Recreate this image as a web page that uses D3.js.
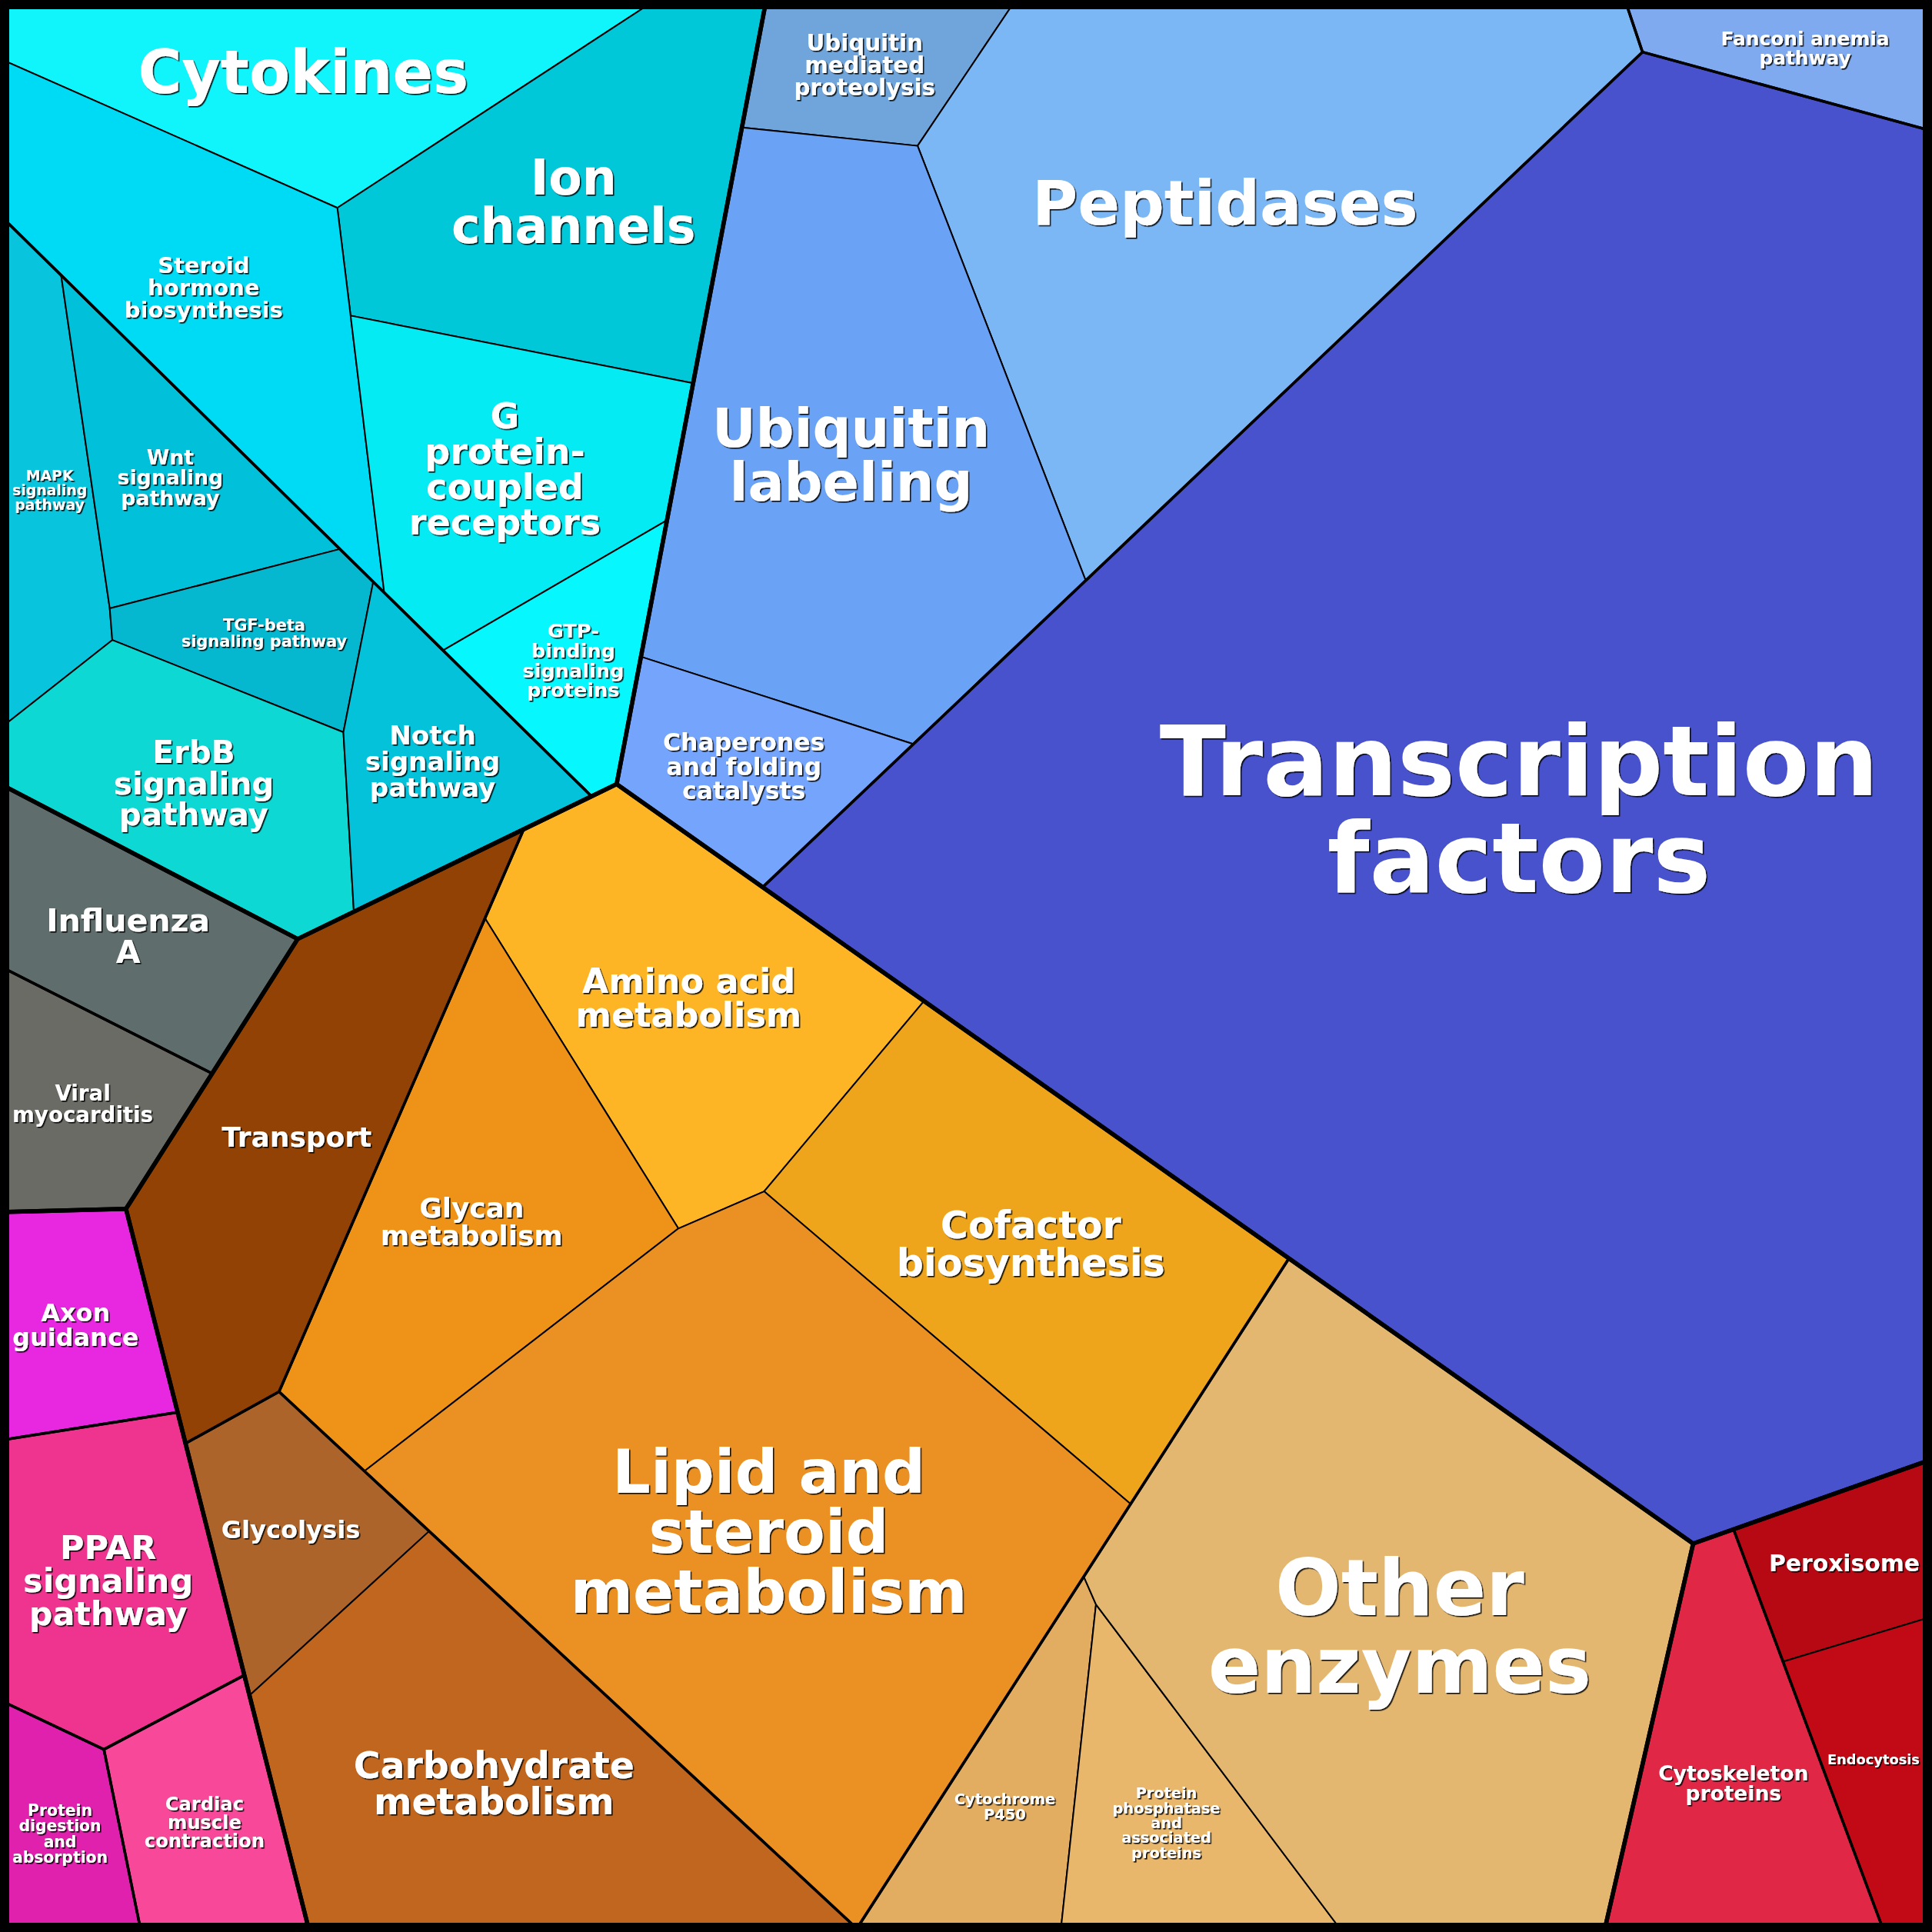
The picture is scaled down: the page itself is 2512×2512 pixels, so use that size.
<!DOCTYPE html>
<html><head><meta charset="utf-8">
<script src="https://cdn.jsdelivr.net/npm/d3@7"></script>
<style>body{margin:0;background:#fff}</style></head>
<body><svg id="chart" width="2512" height="2512"></svg>
<script>
// ---------------- data ----------------
const groups = ["Signaling and cellular processes","Genetic information processing","Metabolism","Human diseases","Organismal systems","Cellular processes"];
const subgroups = [
  "Signaling molecules and interaction","Signal transduction",
  "Folding, sorting and degradation","Transcription","Replication and repair",
  "Core metabolism","Membrane transport","Carbohydrate pathways","Enzymes",
  "Influenza A","Viral myocarditis",
  "Axon guidance","PPAR signaling pathway","Protein digestion and absorption","Cardiac muscle contraction",
  "Transport and catabolism","Cell motility"];
const subgroupGroup = [0,0, 1,1,1, 2,2,2,2, 3,3, 4,4,4,4, 5,5];
const categories = [
  "Cytokines","Ion\nchannels","Steroid\nhormone\nbiosynthesis","G\nprotein-\ncoupled\nreceptors","GTP-\nbinding\nsignaling\nproteins",
  "MAPK\nsignaling\npathway","Wnt\nsignaling\npathway","TGF-beta\nsignaling pathway","ErbB\nsignaling\npathway","Notch\nsignaling\npathway",
  "Ubiquitin\nmediated\nproteolysis","Peptidases","Ubiquitin\nlabeling","Chaperones\nand folding\ncatalysts",
  "Transcription\nfactors",
  "Fanconi anemia\npathway",
  "Amino acid\nmetabolism","Cofactor\nbiosynthesis","Glycan\nmetabolism","Lipid and\nsteroid\nmetabolism",
  "Transport",
  "Glycolysis","Carbohydrate\nmetabolism",
  "Cytochrome\nP450","Protein\nphosphatase\nand\nassociated\nproteins","Other\nenzymes",
  "Influenza\nA","Viral\nmyocarditis",
  "Axon\nguidance","PPAR\nsignaling\npathway","Protein\ndigestion\nand\nabsorption","Cardiac\nmuscle\ncontraction",
  "Peroxisome","Endocytosis","Cytoskeleton\nproteins"];
const categorySubgroup = [0,0,0,0,0, 1,1,1,1,1, 2,2,2,2, 3, 4, 5,5,5,5, 6, 7,7, 8,8,8, 9, 10, 11, 12, 13, 14, 15,15, 16];
const values = [
  131.8,175.8,154.5,126.7,49.0,
  65.5,67.2,46.8,108.8,70.2,
  50.0,387.7,304.5,61.9,
  1773.2,
  45.5,
  174.7,211.2,169.8,482.1,
  167.2,
  64.7,230.7,
  66.0,78.0,436.3,
  77.7,58.2,
  56.0,107.0,42.1,60.5,
  44.9,50.6,107.4];

// ---------------- layout seeds (unit square) ----------------
const groupSeeds = [[0.1829,0.2068],[0.7354,0.3122],[0.4384,0.7332],[0.0405,0.4801],[0.0495,0.8319],[0.9234,0.8444]];
const subgroupSeeds = [
  [0.2024,0.1676],[0.1575,0.2133],
  [0.5583,0.1385],[0.8034,0.3967],[0.9054,0.0222],
  [0.4194,0.6703],[0.0865,0.5255],[0.2608,0.8410],[0.7040,0.8538],
  [0.0985,0.4201],[0.0106,0.5940],
  [0.0326,0.6621],[0.0561,0.8104],[-0.0081,0.9459],[0.1145,0.9209],
  [0.9831,0.8356],[0.8703,0.8778]];
const categorySeeds = [
  [0.133690,-0.007413],[0.247590,0.166986],[0.045592,0.191815],[0.247527,0.167305],[0.405750,0.439321],
  [0.051693,0.250167],[0.129084,0.238866],[0.130385,0.243909],[0.102283,0.314380],[0.398707,0.297124],
  [0.5083,0.0357],[0.6200,0.1108],[0.4954,0.1590],[0.4053,0.4401],
  [0.7864,0.4185],
  [0.9345,0.0249],
  [0.3234,0.4841],[0.5537,0.6775],[0.2528,0.5281],[0.4564,0.7916],
  [0.1529,0.5879],
  [0.1633,0.7236],[0.3101,0.8841],
  [0.6226,0.8842],[0.6624,0.8885],[0.7323,0.8359],
  [0.0667,0.4837],[0.0417,0.5715],
  [0.0390,0.6856],[0.0559,0.8178],[0.0303,0.9491],[0.1058,0.9431],
  [0.9514,0.7479],[0.9957,0.8944],
  [0.8971,0.9226]];

// ---------------- styles ----------------
const categoryColors = [
  "#10f4fb","#00c8d9","#00dbf5","#05ebf3","#06f8fe",
  "#08c5dd","#00c1d9","#06b8cf","#0ed8d3","#03c2da",
  "#6fa5db","#7cb7f5","#6aa2f6","#74a4fb",
  "#4752cc",
  "#7faaf0",
  "#fdb525","#eea41b","#ee9317","#eb9022",
  "#924204",
  "#ac642a","#c1661f",
  "#e3ad61","#e8b76b","#e4b770",
  "#5f6e6c","#696b64",
  "#e828e0","#ef348f","#e021ad","#f74899",
  "#b60914","#c10a16","#e12746"];

const W = 2512;            // drawing size
const FRAME = 24;          // outer frame stroke (half of it visible)
const X = d3.scaleLinear().domain([0,1]).range([0,W]);

// build hierarchy from the arrays
const rootData = {name:"root", children: groups.map((g,gi)=>({
  name:g, seed:groupSeeds[gi],
  children: subgroups.map((s,si)=>({s,si})).filter(o=>subgroupGroup[o.si]===gi).map(o=>({
    name:o.s, seed:subgroupSeeds[o.si],
    children: categories.map((c,ci)=>({c,ci})).filter(q=>categorySubgroup[q.ci]===o.si).map(q=>({
      name:q.c, seed:categorySeeds[q.ci], value:values[q.ci], color:categoryColors[q.ci]}))
  }))
}))};
const root = d3.hierarchy(rootData).sum(d=>d.value||0);

// ---------------- power-diagram (weighted Voronoi) treemap ----------------
function clip(poly,a,b,c,lab){
  const out=[],n=poly.length;
  for(let k=0;k<n;k++){
    const P=poly[k],Q=poly[(k+1)%n];
    const vp=a*P.x+b*P.y-c, vq=a*Q.x+b*Q.y-c;
    if(vp<=0){ out.push(P); if(vq>0){const t=vp/(vp-vq); out.push({x:P.x+t*(Q.x-P.x),y:P.y+t*(Q.y-P.y),lab});} }
    else if(vq<=0){ const t=vp/(vp-vq); out.push({x:P.x+t*(Q.x-P.x),y:P.y+t*(Q.y-P.y),lab:P.lab}); }
  }
  return out;
}
function powerCell(i,s,w,parent){
  let poly=parent.map(p=>({x:p[0],y:p[1],lab:-1}));
  for(let j=0;j<s.length;j++){
    if(j===i) continue;
    const a=2*(s[j][0]-s[i][0]), b=2*(s[j][1]-s[i][1]);
    const c=s[j][0]**2+s[j][1]**2-s[i][0]**2-s[i][1]**2-w[j]+w[i];
    poly=clip(poly,a,b,c,j);
    if(poly.length<3) return [];
  }
  return poly;
}
const cellArea = poly => poly.length<3 ? 0 : Math.abs(d3.polygonArea(poly.map(p=>[p.x,p.y])));
function solveWeights(s,T,parent){
  let w=s.map(()=>0);
  for(let it=0; it<6000; it++){
    const nw=w.slice(); let err=0;
    for(let i=0;i<s.length;i++){
      const poly=powerCell(i,s,w,parent), a=cellArea(poly);
      err=Math.max(err,Math.abs(a-T[i])/T[i]);
      if(a<1e-6){
        let m=Infinity; for(let j=0;j<s.length;j++) if(j!==i) m=Math.min(m,(s[i][0]-s[j][0])**2+(s[i][1]-s[j][1])**2);
        nw[i]=w[i]+0.1*m; continue;
      }
      let den=0;
      for(let k=0;k<poly.length;k++){
        const P=poly[k],Q=poly[(k+1)%poly.length];
        if(P.lab>=0){ const j=P.lab; den+=Math.hypot(Q.x-P.x,Q.y-P.y)/(2*Math.hypot(s[i][0]-s[j][0],s[i][1]-s[j][1])); }
      }
      if(den>0) nw[i]=w[i]+0.6*(T[i]-a)/den;
    }
    w=nw;
    if(err<1e-7) break;
  }
  return w;
}
function layout(node,poly){
  node.polygon=poly;
  if(!node.children) return;
  if(node.children.length===1){ layout(node.children[0],poly); return; }
  const sites=node.children.map(c=>[X(c.data.seed[0]),X(c.data.seed[1])]);
  const total=Math.abs(d3.polygonArea(poly));
  const T=node.children.map(c=>c.value/node.value*total);
  const w=solveWeights(sites,T,poly);
  node.children.forEach((c,i)=>layout(c,powerCell(i,sites,w,poly).map(p=>[p.x,p.y])));
}
layout(root,[[0,0],[W,0],[W,W],[0,W]]);

// ---------------- drawing ----------------
const svg=d3.select("#chart");
const defs=svg.append("defs");
defs.append("filter").attr("id","shadow").attr("x","-10%").attr("y","-10%").attr("width","120%").attr("height","120%")
  .append("feDropShadow").attr("dx",1.6).attr("dy",1.6).attr("stdDeviation",0.6).attr("flood-color","#000").attr("flood-opacity",0.9);
const line=d3.line();
const closed=p=>line(p)+"Z";
const leaves=root.leaves(), mids=root.descendants().filter(d=>d.depth===2), tops=root.descendants().filter(d=>d.depth===1);

svg.append("g").selectAll("path").data(leaves).join("path")
  .attr("d",d=>closed(d.polygon)).attr("fill",d=>d.data.color)
  .attr("stroke","#000").attr("stroke-width",2).attr("stroke-linejoin","round");
svg.append("g").selectAll("path").data(mids).join("path")
  .attr("d",d=>closed(d.polygon)).attr("fill","none")
  .attr("stroke","#000").attr("stroke-width",3.5).attr("stroke-linejoin","round");
svg.append("g").selectAll("path").data(tops).join("path")
  .attr("d",d=>closed(d.polygon)).attr("fill","none")
  .attr("stroke","#000").attr("stroke-width",5.5).attr("stroke-linejoin","round");
svg.append("rect").attr("x",0).attr("y",0).attr("width",W).attr("height",W)
  .attr("fill","none").attr("stroke","#000").attr("stroke-width",FRAME);

// labels: centred on the cell centroid, sized to fit inside the cell, nudged clear of the frame
const ctx=document.createElement("canvas").getContext("2d");
ctx.font='bold 100px "DejaVu Sans"';
const inner=FRAME/2+4;
const labelG=svg.append("g").attr("filter","url(#shadow)");
leaves.forEach(l=>{
  const lines=l.data.name.split("\n");
  const c=d3.polygonCentroid(l.polygon);
  const w1=d3.max(lines,t=>ctx.measureText(t).width)/100;
  const fits=s=>{const hw=w1*s/2, hh=lines.length*s/2;
    return [[c[0]-hw,c[1]-hh],[c[0]+hw,c[1]-hh],[c[0]+hw,c[1]+hh],[c[0]-hw,c[1]+hh]].every(p=>d3.polygonContains(l.polygon,p));};
  let lo=1,hi=400; for(let k=0;k<30;k++){const m=(lo+hi)/2; if(fits(m)) lo=m; else hi=m;}
  const fs=lo*0.87;
  const hw=w1*fs/2, hh=lines.length*fs/2;
  const cx=Math.min(Math.max(c[0],inner+hw),W-inner-hw);
  const cy=Math.min(Math.max(c[1],inner+hh),W-inner-hh);
  const t=labelG.append("text").attr("text-anchor","middle").attr("font-family","DejaVu Sans")
    .attr("font-weight","bold").attr("font-size",fs.toFixed(2)).attr("fill","#fff");
  lines.forEach((s,k)=>t.append("tspan").attr("x",cx).attr("y",cy+(k-(lines.length-1)/2)*fs+0.36*fs).text(s));
});
</script></body></html>
